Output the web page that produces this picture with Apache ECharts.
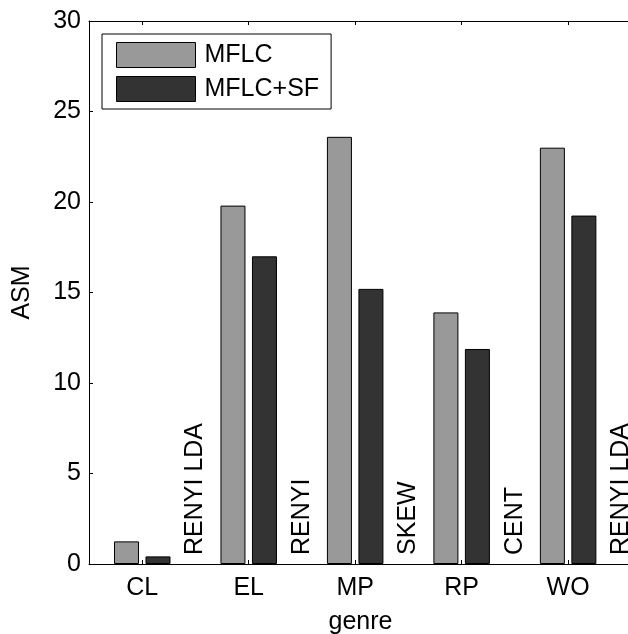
<!DOCTYPE html>
<html>
<head>
<meta charset="utf-8">
<script src="https://cdn.jsdelivr.net/npm/echarts@6/dist/echarts.min.js"></script>
<style>html,body{margin:0;padding:0;background:#fff}#c{width:628px;height:634px}</style>
</head>
<body>
<div id="c"></div>
<script>
const categories = ['CL', 'EL', 'MP', 'RP', 'WO'];
const categoryPos = [1, 2, 3, 4, 5];
const mflc = [1.25, 19.8, 23.6, 13.9, 23.0];
const mflcSf = [0.42, 17.0, 15.2, 11.88, 19.25];
const noteLabels = ['RENYI LDA', 'RENYI', 'SKEW', 'CENT', 'RENYI LDA'];
const notePos = [1.5, 2.5, 3.5, 4.5, 5.5];
const noteY = 0.5;

const FONT = "'Liberation Sans', Arial, Helvetica, sans-serif";
const chart = echarts.init(document.getElementById('c'), null, {renderer: 'canvas'});

const axisLineStyle = {color: '#000', width: 1};
const option = {
  animation: false,
  backgroundColor: '#fff',
  grid: {left: 89, top: 21, right: -4, bottom: 70, containLabel: false, outerBoundsMode: 'none'},
  legend: {
    left: 102, top: 34,
    orient: 'vertical',
    itemWidth: 79, itemHeight: 25, itemGap: 8,
    padding: [8, 12, 7, 14],
    borderColor: '#000', borderWidth: 1,
    backgroundColor: '#fff',
    icon: 'rect',
    textStyle: {fontFamily: FONT, fontSize: 25, color: '#000', padding: [0, 0, 0, 4]},
    data: [
      {name: 'MFLC', itemStyle: {color: '#999999', borderColor: '#000', borderWidth: 1}},
      {name: 'MFLC+SF', itemStyle: {color: '#333333', borderColor: '#000', borderWidth: 1}}
    ]
  },
  xAxis: [{
    type: 'value', min: 0.5, max: 5.6, position: 'bottom',
    name: 'genre', nameLocation: 'middle', nameGap: 46,
    nameTextStyle: {fontFamily: FONT, fontSize: 25, color: '#000'},
    axisLine: {show: true, onZero: false, lineStyle: axisLineStyle},
    axisTick: {show: true, inside: true, length: 4, lineStyle: axisLineStyle, customValues: categoryPos},
    axisLabel: {
      show: true, margin: 12, fontFamily: FONT, fontSize: 25, color: '#000',
      customValues: categoryPos,
      formatter: v => categories[categoryPos.indexOf(Math.round(v))] || ''
    },
    splitLine: {show: false}
  }, {
    type: 'value', min: 0.5, max: 5.6, position: 'top',
    axisLine: {show: true, onZero: false, lineStyle: axisLineStyle},
    axisTick: {show: true, inside: true, length: 4, lineStyle: axisLineStyle, customValues: categoryPos},
    axisLabel: {show: false},
    splitLine: {show: false}
  }],
  yAxis: [{
    type: 'value', min: 0, max: 30, interval: 5, position: 'left',
    name: 'ASM', nameLocation: 'middle', nameGap: 54, nameRotate: 90,
    nameTextStyle: {fontFamily: FONT, fontSize: 25, color: '#000'},
    axisLine: {show: true, onZero: false, lineStyle: axisLineStyle},
    axisTick: {show: true, inside: true, length: 4, lineStyle: axisLineStyle},
    axisLabel: {show: true, margin: 8, fontFamily: FONT, fontSize: 25, color: '#000'},
    splitLine: {show: false}
  }, {
    type: 'value', min: 0, max: 30, interval: 5, position: 'right',
    axisLine: {show: true, onZero: false, lineStyle: axisLineStyle},
    axisTick: {show: true, inside: true, length: 4, lineStyle: axisLineStyle},
    axisLabel: {show: false},
    splitLine: {show: false}
  }],
  series: [{
    name: 'MFLC', type: 'bar', xAxisIndex: 0, yAxisIndex: 0,
    barWidth: 25, barGap: '26%',
    itemStyle: {color: '#999999', borderColor: '#000', borderWidth: 1},
    data: categoryPos.map((x, i) => [x, mflc[i]])
  }, {
    name: 'MFLC+SF', type: 'bar', xAxisIndex: 0, yAxisIndex: 0,
    barWidth: 25, barGap: '26%',
    itemStyle: {color: '#333333', borderColor: '#000', borderWidth: 1},
    data: categoryPos.map((x, i) => [x, mflcSf[i]])
  }, {
    name: 'notes', type: 'scatter', xAxisIndex: 0, yAxisIndex: 0,
    symbolSize: 0, silent: true,
    label: {
      show: true, position: 'inside', rotate: 90, align: 'left', verticalAlign: 'middle',
      fontFamily: FONT, fontSize: 25, color: '#000', opacity: 1,
      formatter: p => noteLabels[p.dataIndex]
    },
    labelLayout: {hideOverlap: false},
    data: notePos.map(x => [x, noteY])
  }]
};
chart.setOption(option);
</script>
</body>
</html>
